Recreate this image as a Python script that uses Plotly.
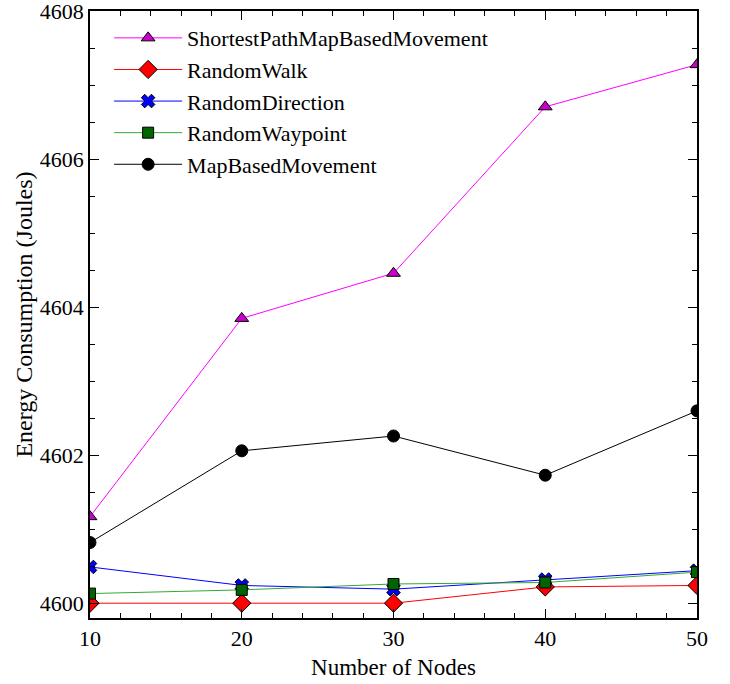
import plotly.graph_objects as go

nodes = [10, 20, 30, 40, 50]
shortest_path = [4601.17, 4603.85, 4604.46, 4606.71, 4607.28]
random_walk = [4600.0, 4600.0, 4600.0, 4600.22, 4600.24]
random_direction = [4600.49, 4600.24, 4600.19, 4600.32, 4600.44]
random_waypoint = [4600.13, 4600.18, 4600.26, 4600.28, 4600.42]
map_based = [4600.82, 4602.06, 4602.26, 4601.73, 4602.6]

series = [
    ("ShortestPathMapBasedMovement", shortest_path, "#ff00ff", "#cc00cc", "triangle-up", 12),
    ("RandomWalk", random_walk, "#ff0000", "#ff0000", "diamond", 14),
    ("RandomDirection", random_direction, "#0000ff", "#0000ff", "x", 12),
    ("RandomWaypoint", random_waypoint, "#33aa33", "#006400", "square", 11),
    ("MapBasedMovement", map_based, "#000000", "#000000", "circle", 12),
]

fig = go.Figure()
for name, ys, lc, mc, sym, sz in series:
    fig.add_trace(go.Scatter(
        x=nodes, y=ys, name=name, mode="lines+markers",
        line=dict(color=lc, width=1),
        marker=dict(symbol=sym, size=sz, color=mc, line=dict(color="#000000", width=1)),
        cliponaxis=True,
    ))

font_family = "Liberation Serif, Times New Roman, serif"
fig.update_layout(
    width=730, height=684,
    margin=dict(l=90, r=33, t=11, b=66),
    paper_bgcolor="white", plot_bgcolor="white",
    font=dict(family=font_family, size=22, color="#000000"),
    showlegend=True,
    legend=dict(x=0.0315, y=0.99, xanchor="left", yanchor="top",
                bgcolor="rgba(0,0,0,0)", font=dict(size=22, family=font_family),
                itemwidth=68, tracegroupgap=0),
    xaxis=dict(
        range=[10, 50], tickmode="array", tickvals=[10, 20, 30, 40, 50],
        ticks="inside", ticklen=9, tickwidth=1, tickcolor="#000",
        minor=dict(ticks="inside", dtick=2, ticklen=5, tickcolor="#000"),
        showline=True, linecolor="#000", linewidth=1.5, mirror="allticks",
        showgrid=False, zeroline=False, automargin=False, ticklabeloverflow="allow",
        title=dict(text="Number of Nodes", font=dict(size=23), standoff=9),
        tickfont=dict(size=22),
    ),
    yaxis=dict(
        range=[4599.8, 4608.005], tickmode="array", tickvals=[4600, 4602, 4604, 4606, 4608],
        ticks="inside", ticklen=9, tickwidth=1, tickcolor="#000",
        minor=dict(ticks="inside", dtick=0.5, tick0=4600, ticklen=5, tickcolor="#000"),
        showline=True, linecolor="#000", linewidth=1.5, mirror="allticks",
        showgrid=False, zeroline=False, automargin=False, ticklabeloverflow="allow",
        title=dict(text="Energy Consumption (Joules)", font=dict(size=24), standoff=0),
        tickfont=dict(size=22),
    ),
)

fig.write_html("out.html")
